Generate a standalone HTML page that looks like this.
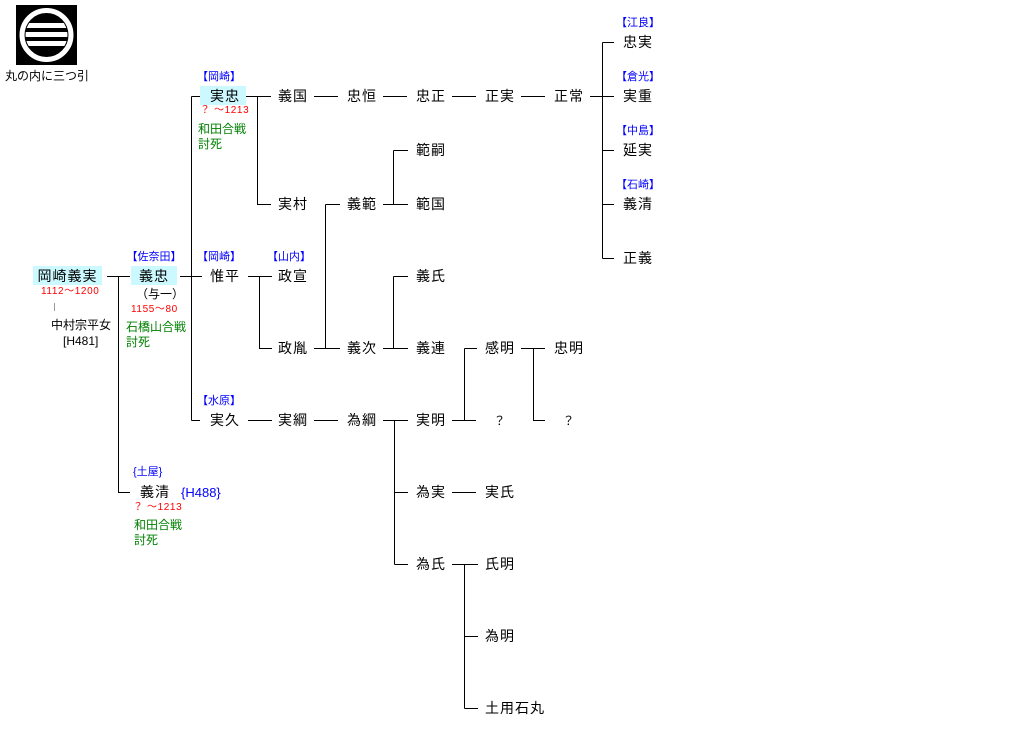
<!DOCTYPE html>
<html><head><meta charset="utf-8">
<style>
body{margin:0;width:1035px;height:752px;background:#fff;position:relative;overflow:hidden;font-family:"Liberation Sans","Noto Sans CJK JP",sans-serif;}
.n{position:absolute;width:70px;text-align:center;font-size:14px;letter-spacing:1px;line-height:16px;color:#000;white-space:nowrap;}
.b{position:absolute;width:70px;text-align:center;font-size:11px;line-height:13px;color:#0000ff;white-space:nowrap;}
.r{position:absolute;font-size:10px;letter-spacing:0.6px;line-height:12px;color:#ff0000;white-space:nowrap;}
.g{position:absolute;font-size:12px;line-height:15px;color:#008000;white-space:nowrap;}
.k{position:absolute;font-size:12px;line-height:15px;color:#000;white-space:nowrap;}
.hl{position:absolute;background:#ccf9ff;}
svg{position:absolute;left:0;top:0;}
</style></head><body>
<div class="hl" style="left:33px;top:266px;width:69px;height:19px"></div>
<div class="hl" style="left:131px;top:266px;width:46px;height:19px"></div>
<div class="hl" style="left:200px;top:86px;width:46px;height:19px"></div>

<svg width="1035" height="752">
<defs><clipPath id="c"><circle cx="46.5" cy="35" r="21"/></clipPath></defs>
<rect x="16" y="5" width="61" height="60" fill="#000"/>
<circle cx="46.5" cy="35" r="24.5" fill="none" stroke="#fff" stroke-width="5"/>
<g clip-path="url(#c)" fill="#fff">
<rect x="20" y="23" width="53" height="5"/>
<rect x="20" y="32" width="53" height="5"/>
<rect x="20" y="41" width="53" height="5"/>
</g>
<line x1="54.5" y1="303" x2="54.5" y2="311" stroke="#999" stroke-width="1"/>
<g stroke="#000" stroke-width="1" fill="none" shape-rendering="crispEdges">
<path d="M107 276.5H130 M118.5 276.5V492.5H130"/>
<path d="M180 276.5H202 M191.5 96.5V420.5 M191.5 96.5H200 M191.5 420.5H200"/>
<path d="M246 96.5H271 M257.5 96.5V204.5H271"/>
<path d="M314 96.5H338 M383 96.5H407 M452 96.5H476 M521 96.5H545 M590 96.5H614 M602.5 42.5V258.5 M602.5 42.5H614 M602.5 150.5H614 M602.5 204.5H614 M602.5 258.5H614"/>
<path d="M248 276.5H272 M259.5 276.5V348.5H272"/>
<path d="M314 348.5H340 M325.5 204.5V348.5 M325.5 204.5H340"/>
<path d="M383 204.5H408 M393.5 150.5V204.5 M393.5 150.5H408"/>
<path d="M383 348.5H408 M393.5 276.5V348.5 M393.5 276.5H408"/>
<path d="M452 420.5H476 M464.5 348.5V420.5 M464.5 348.5H477"/>
<path d="M521 348.5H545 M533.5 348.5V420.5H545"/>
<path d="M248 420.5H272 M314 420.5H338 M383 420.5H408 M394.5 420.5V564.5 M394.5 492.5H408 M394.5 564.5H408"/>
<path d="M452 492.5H476 M452 564.5H478 M464.5 564.5V708.5 M464.5 636.5H478 M464.5 708.5H478"/>
</g>
</svg>

<div class="k" style="left:5px;top:69px">丸の内に三つ引</div>

<div class="n" style="left:33px;top:268px;width:69px">岡崎義実</div>
<div class="r" style="left:41px;top:286px">1112〜1200</div>
<div class="k" style="left:51px;top:318px">中村宗平女</div>
<div class="k" style="left:63px;top:334px">[H481]</div>

<div class="b" style="left:119px;top:251px">【佐奈田】</div>
<div class="n" style="left:119px;top:268px">義忠</div>
<div class="k" style="left:136px;top:287px">（与一）</div>
<div class="r" style="left:131px;top:304px">1155〜80</div>
<div class="g" style="left:126px;top:320px">石橋山合戦</div>
<div class="g" style="left:126px;top:335px">討死</div>

<div class="b" style="left:184px;top:71px">【岡崎】</div>
<div class="n" style="left:190px;top:88px">実忠</div>
<div class="r" style="left:200px;top:105px">？ 〜1213</div>
<div class="g" style="left:198px;top:122px">和田合戦</div>
<div class="g" style="left:198px;top:137px">討死</div>

<div class="b" style="left:184px;top:251px">【岡崎】</div>
<div class="n" style="left:190px;top:268px">惟平</div>
<div class="b" style="left:184px;top:395px">【水原】</div>
<div class="n" style="left:190px;top:412px">実久</div>

<div class="b" style="left:133px;top:466px;width:auto">{土屋}</div>
<div class="n" style="left:120px;top:484px">義清</div>
<div class="b" style="left:181px;top:485px;width:auto;font-size:13px;line-height:15px">{H488}</div>
<div class="r" style="left:133px;top:502px">？ 〜1213</div>
<div class="g" style="left:134px;top:518px">和田合戦</div>
<div class="g" style="left:134px;top:533px">討死</div>

<div class="n" style="left:258px;top:88px">義国</div>
<div class="n" style="left:258px;top:196px">実村</div>
<div class="b" style="left:254px;top:251px">【山内】</div>
<div class="n" style="left:258px;top:268px">政宣</div>
<div class="n" style="left:258px;top:340px">政胤</div>
<div class="n" style="left:258px;top:412px">実綱</div>

<div class="n" style="left:327px;top:88px">忠恒</div>
<div class="n" style="left:327px;top:196px">義範</div>
<div class="n" style="left:327px;top:340px">義次</div>
<div class="n" style="left:327px;top:412px">為綱</div>

<div class="n" style="left:396px;top:88px">忠正</div>
<div class="n" style="left:396px;top:142px">範嗣</div>
<div class="n" style="left:396px;top:196px">範国</div>
<div class="n" style="left:396px;top:268px">義氏</div>
<div class="n" style="left:396px;top:340px">義連</div>
<div class="n" style="left:396px;top:412px">実明</div>
<div class="n" style="left:396px;top:484px">為実</div>
<div class="n" style="left:396px;top:556px">為氏</div>

<div class="n" style="left:465px;top:88px">正実</div>
<div class="n" style="left:465px;top:340px">感明</div>
<div class="n" style="left:465px;top:413px;font-size:12px">？</div>
<div class="n" style="left:465px;top:484px">実氏</div>
<div class="n" style="left:465px;top:556px">氏明</div>
<div class="n" style="left:465px;top:628px">為明</div>
<div class="n" style="left:485px;top:700px;width:auto;text-align:left">土用石丸</div>

<div class="n" style="left:534px;top:88px">正常</div>
<div class="n" style="left:534px;top:340px">忠明</div>
<div class="n" style="left:534px;top:413px;font-size:12px">？</div>

<div class="b" style="left:603px;top:17px">【江良】</div>
<div class="n" style="left:603px;top:34px">忠実</div>
<div class="b" style="left:603px;top:71px">【倉光】</div>
<div class="n" style="left:603px;top:88px">実重</div>
<div class="b" style="left:603px;top:125px">【中島】</div>
<div class="n" style="left:603px;top:142px">延実</div>
<div class="b" style="left:603px;top:179px">【石崎】</div>
<div class="n" style="left:603px;top:196px">義清</div>
<div class="n" style="left:603px;top:250px">正義</div>
</body></html>
